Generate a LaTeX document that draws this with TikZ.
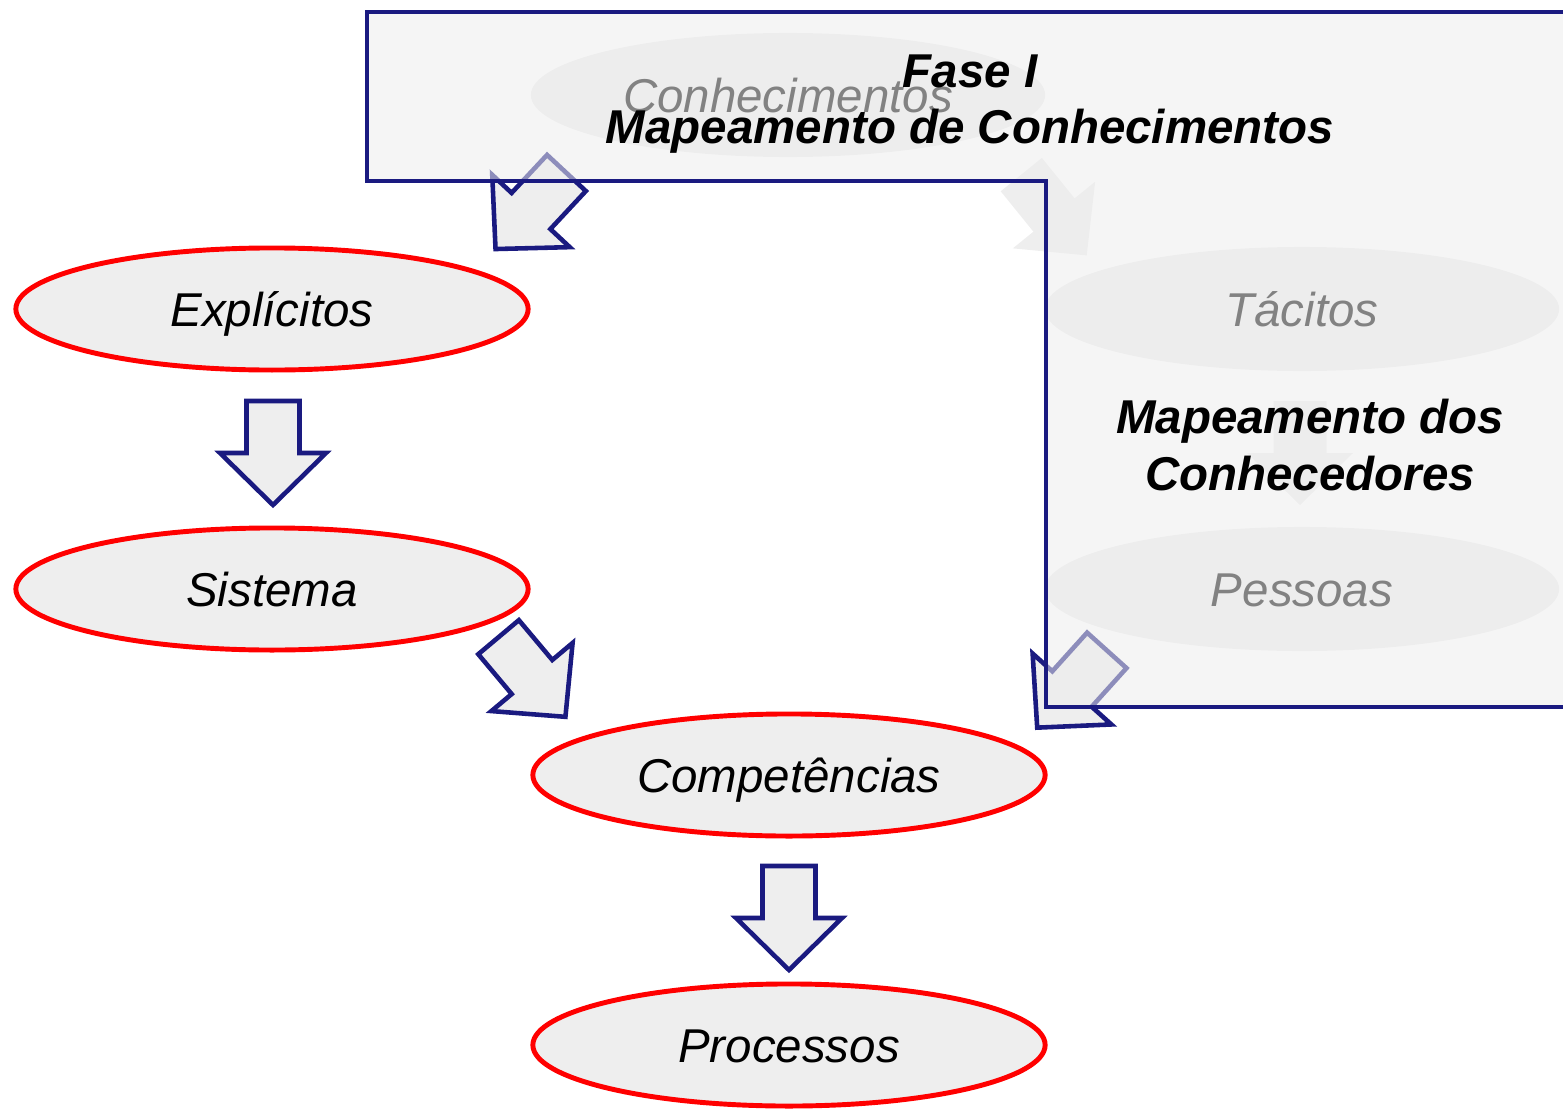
\documentclass[tikz,border=0pt]{standalone}
\usepackage{fontspec}
\setmainfont{Liberation Sans}
\usetikzlibrary{shapes.geometric}

\definecolor{navy}{RGB}{26,26,128}
\definecolor{ovalgray}{HTML}{EEEEEE}
\definecolor{panelgray}{HTML}{EDEDED}
\newcommand\labelsize{\fontsize{13.5}{16}\selectfont}

\begin{document}
\begin{tikzpicture}[x=0.01cm, y=-0.01cm,
  oval/.style={ellipse, draw=red, line width=1.4pt, fill=ovalgray,
    minimum width=5.12cm, minimum height=1.22cm, inner sep=0pt,
    text height=9.7pt, text depth=0pt, font=\labelsize\itshape},
  hidden/.style={ellipse, fill=ovalgray,
    minimum width=5.14cm, minimum height=1.24cm, inner sep=0pt,
    text height=9.7pt, text depth=0pt, font=\labelsize\itshape},
  title/.style={align=center, font=\labelsize\bfseries\itshape},
  pics/blockarrow/.style={code={
    \path[pic actions] (-26.5,-52) -- (26.5,-52) -- (26.5,0) -- (53,0) -- (0,52)
      -- (-53,0) -- (-26.5,0) -- cycle;}},
  outlined/.style={draw=navy, line width=1.3pt, fill=ovalgray},
  plain/.style={fill=ovalgray}]

\clip (0,0) rectangle (1563,1109);

% under the panel
\node[hidden] (conh) at (788,95) {Conhecimentos};
\node[hidden] (tac) at (1302,309) {Tácitos};
\node[hidden] (pess) at (1302,589) {Pessoas};
\pic[plain, rotate=39] at (1054,215) {blockarrow};
\pic[plain] at (1300,453) {blockarrow};
\pic[outlined, rotate=-43] at (531,211) {blockarrow};
\pic[outlined, rotate=-42] at (1072,689) {blockarrow};

% explicit side
\node[oval] (expl) at (272,309) {Explícitos};
\node[oval] (sist) at (272,589) {Sistema};
\node[oval] (comp) at (789,775) {Competências};
\node[oval] (proc) at (789,1045) {Processos};
\pic[outlined] at (273,453) {blockarrow};
\pic[outlined, rotate=40] at (532,677) {blockarrow};
\pic[outlined] at (789,918) {blockarrow};

% Fase I panel
\draw[navy, line width=1.4pt, fill=panelgray, fill opacity=0.55]
  (367,12) -- (1575,12) -- (1575,707) -- (1046,707) -- (1046,181) -- (367,181) -- cycle;
\node[title] (fase) at (970,104) {Fase I\\Mapeamento de Conhecimentos};
\node[title] (conhec) at (1310,445) {Mapeamento dos\\Conhecedores};

\end{tikzpicture}
\end{document}
